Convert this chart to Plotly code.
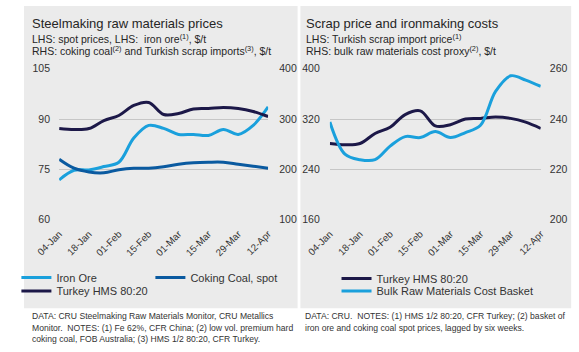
import plotly.graph_objects as go

dates = ["2021-01-04", "2021-01-11", "2021-01-18", "2021-01-25", "2021-02-01",
         "2021-02-08", "2021-02-15", "2021-02-22", "2021-03-01", "2021-03-08",
         "2021-03-15", "2021-03-22", "2021-03-29", "2021-04-05", "2021-04-12"]
tick_dates = ["2021-01-04", "2021-01-18", "2021-02-01", "2021-02-15",
              "2021-03-01", "2021-03-15", "2021-03-29", "2021-04-12"]
tick_labels = ["04-Jan", "18-Jan", "01-Feb", "15-Feb", "01-Mar", "15-Mar", "29-Mar", "12-Apr"]

iron_ore = [71.8, 74.7, 74.8, 75.8, 77.1, 84.3, 88.1, 87.2, 85.4, 85.4, 85.1, 86.9, 85.4, 88.1, 93.6]
coking_coal = [220, 202, 194.5, 193, 199, 202, 202, 205, 210, 213, 214, 214, 210, 206, 202]
turkey_hms = [281, 279, 281, 297, 307, 327, 333, 309, 311, 320, 321, 323, 321, 315, 305]
basket = [238.8, 226, 223.8, 223.8, 229.2, 233, 232.6, 235, 232.6, 234.6, 237.5, 251, 257.2, 255.5, 253]

C_ORE = "#1aa0dc"
C_COAL = "#0a5aa0"
C_HMS = "#1c1848"
GRID = "#c6c6c6"
TXT = "#333333"
FONT = "Liberation Sans, Arial"
W, H = 579, 352

def px(x):
    return x / W

def py(y):
    return 1 - y / H

fig = go.Figure()
ln = dict(width=3, shape="spline", smoothing=1)
fig.add_trace(go.Scatter(x=dates, y=iron_ore, name="Iron Ore", mode="lines",
                         line=dict(color=C_ORE, **ln), xaxis="x", yaxis="y", legend="legend"))
fig.add_trace(go.Scatter(x=dates, y=coking_coal, name="Coking Coal, spot", mode="lines",
                         line=dict(color=C_COAL, **ln), xaxis="x", yaxis="y2", legend="legend"))
fig.add_trace(go.Scatter(x=dates, y=turkey_hms, name="Turkey HMS 80:20", mode="lines",
                         line=dict(color=C_HMS, **ln), xaxis="x", yaxis="y2", legend="legend2"))
fig.add_trace(go.Scatter(x=dates, y=turkey_hms, name="Turkey HMS 80:20", mode="lines",
                         line=dict(color=C_HMS, **ln), xaxis="x2", yaxis="y3", legend="legend3"))
fig.add_trace(go.Scatter(x=dates, y=basket, name="Bulk Raw Materials Cost Basket", mode="lines",
                         line=dict(color=C_ORE, **ln), xaxis="x2", yaxis="y4", legend="legend4"))

ydom = [py(221), py(65)]
tickfont = dict(family=FONT, size=10.5, color=TXT)
xcommon = dict(type="date", range=[dates[0], dates[-1]], tickvals=tick_dates, ticktext=tick_labels,
               tickangle=-45, showgrid=False, zeroline=False, showline=False,
               ticks="outside", ticklen=4, tickcolor="rgba(0,0,0,0)",
               tickfont=dict(family=FONT, size=9.8, color=TXT))
ycommon = dict(zeroline=False, showline=False, tickfont=tickfont, ticks="outside",
               tickcolor="rgba(0,0,0,0)")
legfont = dict(family=FONT, size=11, color=TXT)

def leg(x, y, **kw):
    return dict(orientation="h", x=px(x), y=py(y), xanchor="left", yanchor="top",
                bgcolor="rgba(0,0,0,0)", font=legfont, **kw)

fig.update_layout(
    width=W, height=H, margin=dict(l=0, r=0, t=0, b=0),
    paper_bgcolor="white", plot_bgcolor="rgba(0,0,0,0)",
    font=dict(family=FONT, color=TXT),
    xaxis=dict(domain=[px(37), px(257)], anchor="y", **xcommon),
    xaxis2=dict(domain=[px(322), px(544)], anchor="y3", **xcommon),
    yaxis=dict(domain=ydom, range=[60, 105], tickvals=[60, 75, 90, 105], gridcolor=GRID, gridwidth=1,
               anchor="x", ticklen=6, **ycommon),
    yaxis2=dict(domain=ydom, range=[100, 400], tickvals=[100, 200, 300, 400], overlaying="y", side="right",
                showgrid=False, anchor="x", ticklen=8, **ycommon),
    yaxis3=dict(domain=ydom, range=[160, 400], tickvals=[160, 240, 320, 400], gridcolor=GRID, gridwidth=1,
                anchor="x2", ticklen=7, **ycommon),
    yaxis4=dict(domain=ydom, range=[200, 260], tickvals=[200, 220, 240, 260], overlaying="y3", side="right",
                showgrid=False, anchor="x2", ticklen=6, **ycommon),
    legend=leg(-8, 266, entrywidth=89, entrywidthmode="pixels"),
    legend2=leg(-8, 280),
    legend3=leg(329, 267),
    legend4=leg(329, 280),
    shapes=[
        dict(type="rect", xref="paper", yref="paper", x0=0, x1=px(288), y0=py(313), y1=1,
             fillcolor="#ebebeb", line=dict(width=0), layer="below"),
        dict(type="rect", xref="paper", yref="paper", x0=px(291), x1=px(576), y0=py(313), y1=1,
             fillcolor="#ebebeb", line=dict(width=0), layer="below"),
    ],
)

def ann(x, y, text, size, color=TXT):
    fig.add_annotation(x=px(x), y=py(y), xref="paper", yref="paper", text=text, showarrow=False,
                       xanchor="left", yanchor="middle", align="left",
                       font=dict(family=FONT, size=size, color=color))

ann(6, 18, "Steelmaking raw materials prices", 13, "#262626")
ann(6, 33.5, "LHS: spot prices, LHS:  iron ore<sup>(1)</sup>, $/t", 10.5, "#262626")
ann(6, 46, "RHS: coking coal<sup>(2)</sup> and Turkish scrap imports<sup>(3)</sup>, $/t", 10.5, "#262626")
ann(295, 18, "Scrap price and ironmaking costs", 13, "#262626")
ann(295, 33.5, "LHS: Turkish scrap import price<sup>(1)</sup>", 10.5, "#262626")
ann(295, 46, "RHS: bulk raw materials cost proxy<sup>(2)</sup>, $/t", 10.5, "#262626")

ann(6, 321, "DATA: CRU Steelmaking Raw Materials Monitor, CRU Metallics", 8.6)
ann(6, 333, "Monitor.  NOTES: (1) Fe 62%, CFR China; (2) low vol. premium hard", 8.6)
ann(6, 345, "coking coal, FOB Australia; (3) HMS 1/2 80:20, CFR Turkey.", 8.6)
ann(294, 321, "DATA: CRU.  NOTES: (1) HMS 1/2 80:20, CFR Turkey; (2) basket of", 8.6)
ann(294, 333, "iron ore and coking coal spot prices, lagged by six weeks.", 8.6)

fig.write_html("out.html")
